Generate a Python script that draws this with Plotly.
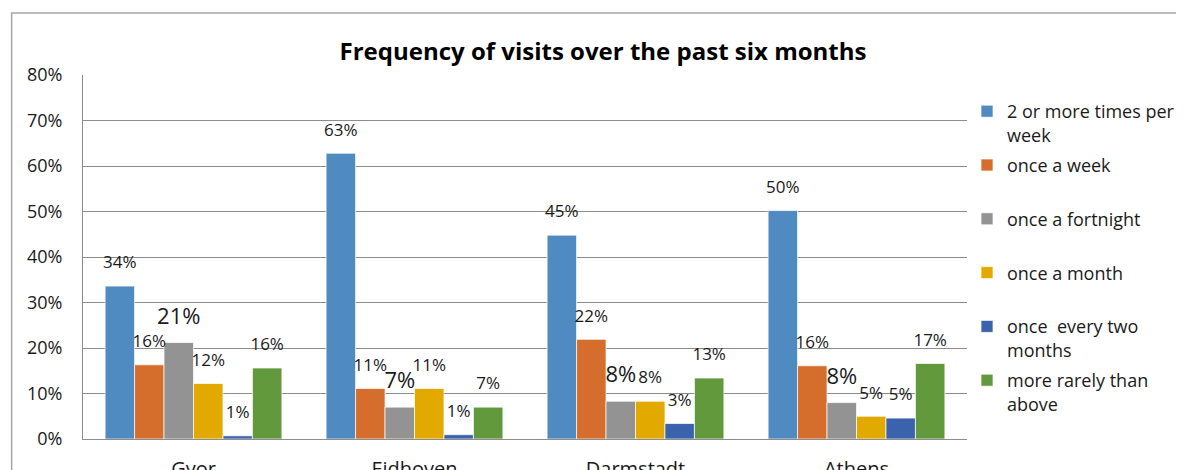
import plotly.graph_objects as go

cities = ["Gyor", "Eidhoven", "Darmstadt", "Athens"]
series_names = [
    "2 or more times per<br>week",
    "once a week<br> ",
    "once a fortnight<br> ",
    "once a month<br> ",
    "once  every two<br>months",
    "more rarely than<br>above",
]
two_or_more = [33.6, 62.8, 44.8, 50.2]
once_week = [16.3, 11.1, 21.9, 16.1]
once_fortnight = [21.2, 7.0, 8.3, 8.0]
once_month = [12.2, 11.1, 8.3, 5.0]
once_two_months = [0.7, 0.95, 3.4, 4.6]
more_rarely = [15.6, 7.0, 13.4, 16.6]

series_values = [two_or_more, once_week, once_fortnight, once_month, once_two_months, more_rarely]
colors = ["#4F8BC0", "#D56D2D", "#939393", "#E2A900", "#3B63AD", "#63993D"]
label_sizes = [17, 17, 22, 17, 17, 17]

FONT = "'Open Sans', sans-serif"

# page body has an 8px default margin; figure coordinates are offset accordingly
fig = go.Figure()
for name, vals, col in zip(series_names, series_values, colors):
    fig.add_trace(go.Bar(
        x=cities, y=vals, name=name,
        marker=dict(color=col, line=dict(color="rgba(255,255,255,0.7)", width=1)),
        legendgroup=name,
    ))
for name, vals, sz in zip(series_names, series_values, label_sizes):
    fig.add_trace(go.Scatter(
        x=cities, y=vals, mode="markers+text",
        text=[f"{v:.0f}%" for v in vals],
        textposition="top center",
        textfont=dict(family=FONT, size=sz, color="#1a1a1a"),
        marker=dict(size=20, opacity=0),
        showlegend=False, hoverinfo="skip", cliponaxis=False,
    ))

grid = "#8c8c8c"
fig.update_layout(
    width=1184, height=470,
    margin=dict(l=75, r=217, t=67, b=39),
    paper_bgcolor="white", plot_bgcolor="white",
    barmode="group", bargap=0.2, bargroupgap=0,
    scattermode="group", scattergap=0.2,
    font=dict(family=FONT, size=16, color="#1a1a1a"),
    title=dict(text="<b>Frequency of visits over the past six months</b>",
               x=595 / 1184, xanchor="center", y=1 - 44 / 470, yanchor="middle",
               font=dict(size=24, color="#000000")),
    legend=dict(x=1.0, xanchor="left", y=(364 - 18) / 364, yanchor="top",
                valign="top", tracegroupgap=4, itemwidth=30,
                font=dict(size=18, color="#1a1a1a"), bgcolor="rgba(0,0,0,0)"),
    showlegend=True,
    xaxis=dict(showgrid=False, showline=True, linecolor=grid, linewidth=1,
               ticks="", ticklabelstandoff=12, tickfont=dict(size=20),
               automargin=False),
    yaxis=dict(range=[0, 80], dtick=10, ticksuffix="%", showgrid=True,
               gridcolor=grid, gridwidth=1, showline=True, linecolor=grid,
               zeroline=False, ticks="", ticklabelstandoff=16,
               tickfont=dict(size=18), automargin=False),
    shapes=[dict(type="rect", xref="paper", yref="paper",
                 x0=(11 - 83) / 892, x1=(1200 - 83) / 892,
                 y0=(439 - 490) / 364, y1=(439 - 13) / 364,
                 line=dict(color="#a6a6a6", width=1.5), fillcolor="rgba(0,0,0,0)",
                 layer="below")],
)
fig.write_html("out.html")
